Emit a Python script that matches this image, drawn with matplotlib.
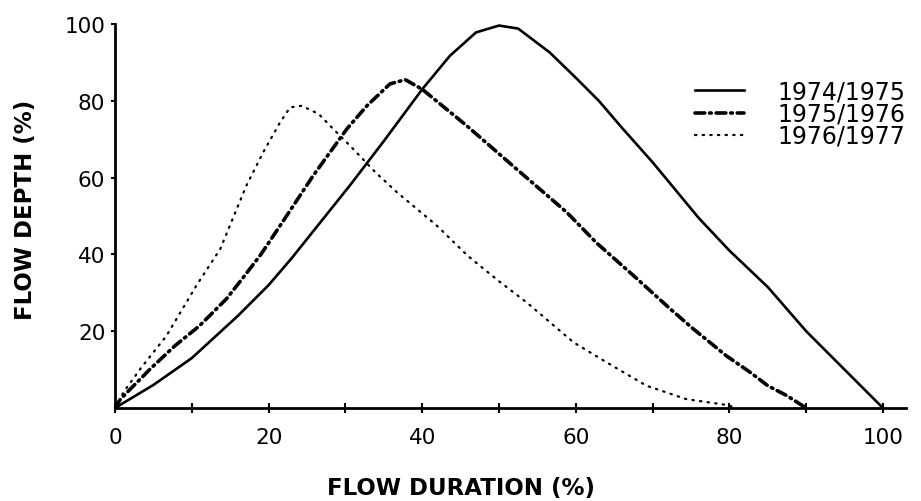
import matplotlib
matplotlib.use("Agg")
import matplotlib.pyplot as plt
import numpy as np

# flow duration (%) vs flow depth (%)
dur_7475 = [0, 5, 10, 16, 20, 23, 30.6, 35, 40, 43.6, 47, 50, 52.5, 56.6, 60, 63, 66, 70, 76, 80, 85, 90, 95, 100]
dep_7475 = [0, 6, 13, 24, 32, 39, 58, 69.5, 83, 91.7, 97.8, 99.6, 98.8, 92.6, 86, 80, 73, 64, 49.5, 41, 31.5, 20, 10, 0]

dur_7576 = [0, 0.7, 4.6, 7.8, 11, 14.5, 16.7, 19, 22, 25.8, 30.2, 32.8, 35.8, 37.8, 40, 45.8, 52.3, 58.8, 62.7,
            67.5, 72.3, 75.3, 79.6, 82.7, 85, 87.5, 90]
dep_7576 = [0, 2.3, 10.2, 16.2, 21.4, 28.4, 34, 40, 49, 60.5, 72.7, 78.7, 84.4, 85.5, 83, 73.5, 62.2, 51, 43,
            34.5, 25.8, 20.6, 13.6, 9.3, 5.8, 3.2, 0]

dur_7677 = [0, 1.1, 3.3, 6.7, 10.6, 13.7, 17.1, 19.3, 21.5, 22.8, 24.3, 26.5, 28, 30.6, 33.9, 36.7, 41.9, 46,
            50, 53.6, 59.7, 64, 69.2, 74.4, 79.6, 81]
dep_7677 = [0, 4.1, 10.2, 18.8, 31.9, 41.4, 57.9, 66.6, 74.4, 78.3, 78.7, 76.6, 73.5, 68.3, 61.4, 56.2, 47.5, 39.5,
            33, 27.5, 17.1, 11.9, 5.8, 2.3, 0.8, 0]

labels = ["1974/1975", "1975/1976", "1976/1977"]
xticks = [0, 20, 40, 60, 80, 100]
yticks = [20, 40, 60, 80, 100]

plt.rcParams['lines.scale_dashes'] = False

fig = plt.figure(figsize=(9.21, 5.02), dpi=100)
ax = fig.add_axes([0.1249, 0.1853, 0.9837 - 0.1249, 0.9502 - 0.1853])

ax.plot(dur_7475, dep_7475, color='black', lw=1.9, solid_joinstyle='round', label=labels[0])
ax.plot(dur_7576, dep_7576, color='black', lw=2.6, dashes=(7, 3.5, 1.2, 3.5),
        dash_capstyle='round', label=labels[1])
ax.plot(dur_7677, dep_7677, color='black', lw=1.6, dashes=(1.0, 4.5),
        dash_capstyle='round', label=labels[2])

ax.set_xlim(0, 103)
ax.set_ylim(0, 100)
for s in ['top', 'right']:
    ax.spines[s].set_visible(False)
for s in ['left', 'bottom']:
    ax.spines[s].set_linewidth(2)
ax.spines['left'].set_bounds(0, 100)

ax.set_xticks(xticks)
ax.set_xticks([10, 30, 50, 70, 90], minor=True)
ax.set_yticks(yticks)
ax.tick_params(axis='x', which='both', direction='inout', length=7, width=1.5, pad=10, labelsize=15.5)
ax.tick_params(axis='y', direction='out', length=3, width=1.5, pad=4, labelsize=15.5)

ax.set_xlabel("FLOW DURATION (%)", fontsize=16.5, fontweight='bold')
ax.xaxis.set_label_coords(0.438, -0.178)
ax.set_ylabel("FLOW DEPTH (%)", fontsize=16.5, fontweight='bold')
ax.yaxis.set_label_coords(-0.099, 0.518)

ax.legend(loc='upper left', bbox_to_anchor=(0.733, 0.855), frameon=False, fontsize=17,
          handlelength=2.1, handletextpad=1.4, labelspacing=-0.08, borderpad=0, borderaxespad=0)

fig.savefig("out.png", dpi=100)
